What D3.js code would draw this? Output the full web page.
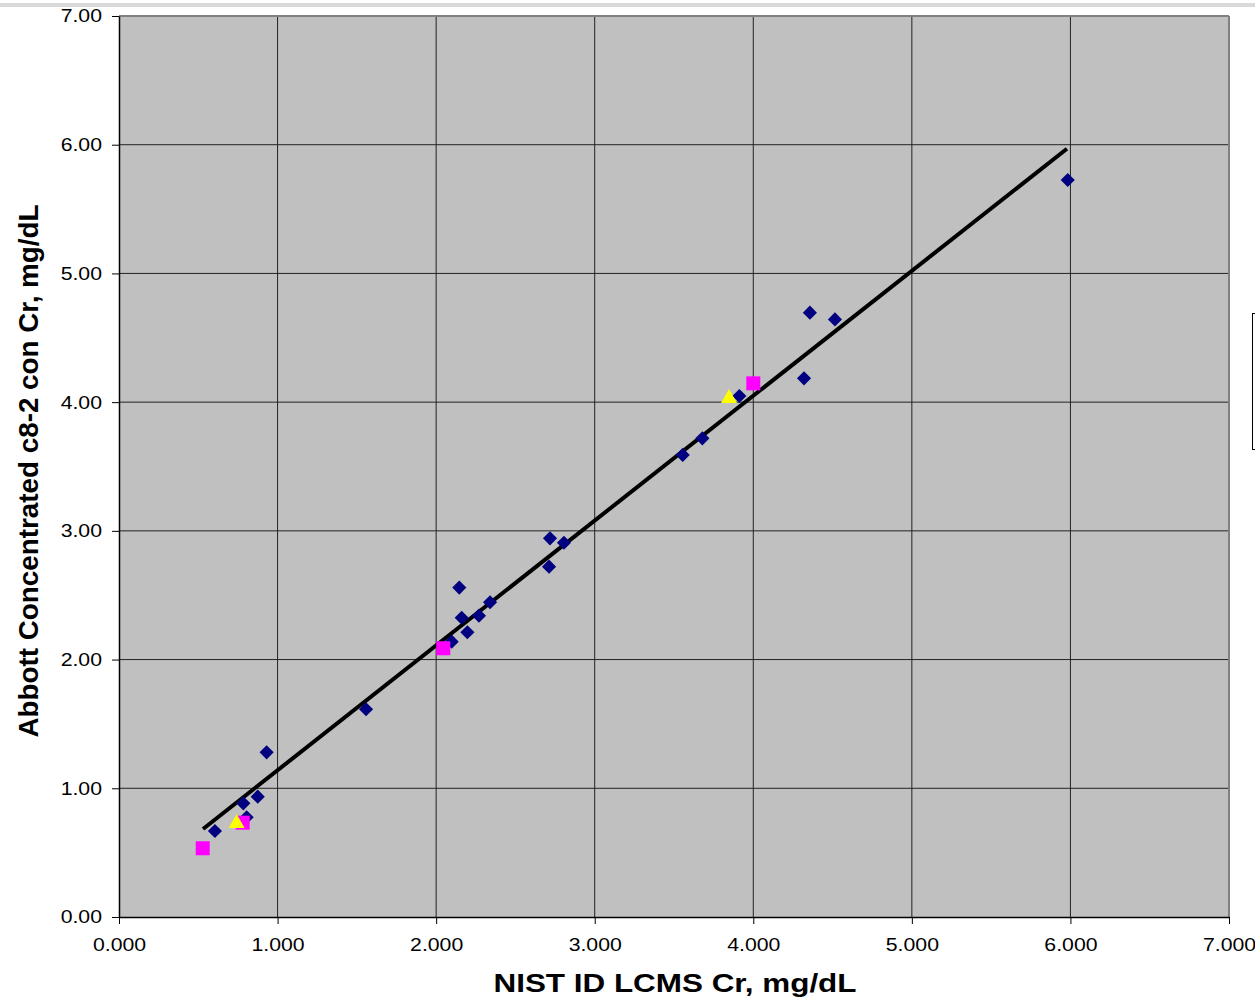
<!DOCTYPE html>
<html><head><meta charset="utf-8">
<script src="https://cdn.jsdelivr.net/npm/d3@7"></script>
<style>body{margin:0;background:#fff}svg{display:block}text{font-family:"Liberation Sans",Arial,sans-serif}</style>
</head><body>
<script>
const xTicks = [0,1,2,3,4,5,6,7];
const yTicks = [0,1,2,3,4,5,6,7];
const blueX = [0.605,0.784,0.805,0.875,0.931,1.558,2.098,2.146,2.161,2.197,2.270,2.340,2.712,2.718,2.806,3.555,3.679,3.912,4.320,4.357,4.515,5.983];
const blueY = [0.668,0.883,0.775,0.935,1.279,1.614,2.139,2.559,2.325,2.212,2.341,2.445,2.722,2.942,2.908,3.590,3.719,4.048,4.185,4.695,4.643,5.726];
const pinkX = [0.528,0.780,2.045,4.000];
const pinkY = [0.534,0.733,2.088,4.146];
const yellowX = [0.742,3.847];
const yellowY = [0.738,4.040];
const trendX = [0.53,5.978];
const trendSlope = 0.970, trendIntercept = 0.170;

const W=1255,H=998;
const svg=d3.select("body").append("svg").attr("width",W).attr("height",H);
const L=119,R=1229,T=16,B=917;
const x=d3.scaleLinear().domain([0,7]).range([L,R]);
const y=d3.scaleLinear().domain([0,7]).range([B,T]);
const stretch=1.18;

svg.append("rect").attr("x",0).attr("y",3).attr("width",W).attr("height",4).attr("fill","#d9d9d9");
svg.append("rect").attr("x",L).attr("y",T).attr("width",R-L).attr("height",B-T).attr("fill","#c0c0c0");

svg.append("g").selectAll("line").data(xTicks.slice(1,-1)).join("line")
  .attr("x1",d=>x(d)).attr("x2",d=>x(d)).attr("y1",T).attr("y2",B).attr("stroke","#222").attr("stroke-width",1);
svg.append("g").selectAll("line").data(yTicks.slice(1,-1)).join("line")
  .attr("y1",d=>y(d)).attr("y2",d=>y(d)).attr("x1",L).attr("x2",R).attr("stroke","#222").attr("stroke-width",1);
svg.append("line").attr("x1",L).attr("x2",R).attr("y1",T).attr("y2",T).attr("stroke","#808080").attr("stroke-width",2);
svg.append("line").attr("x1",R).attr("x2",R).attr("y1",T).attr("y2",B).attr("stroke","#808080").attr("stroke-width",2);

const xa=svg.append("g").attr("transform",`translate(0,${B})`)
  .call(d3.axisBottom(x).tickValues(xTicks).tickFormat(d3.format(".3f")).tickSize(7).tickSizeOuter(0));
const ya=svg.append("g").attr("transform",`translate(${L},0)`)
  .call(d3.axisLeft(y).tickValues(yTicks).tickFormat(d3.format(".2f")).tickSize(7).tickSizeOuter(0));
[xa,ya].forEach(a=>{a.select(".domain").attr("stroke","#000").attr("stroke-width",1.5);
  a.selectAll(".tick line").attr("stroke","#000");
  a.selectAll("text").attr("font-size",18).attr("fill","#000").attr("font-family","Liberation Sans, Arial, sans-serif");});
xa.selectAll("text").attr("y",34).attr("dy",0);
ya.selectAll("text").attr("x",-17).attr("dy","0.33em");
[xa,ya].forEach(a=>a.selectAll("text").each(function(){
  const len=this.getComputedTextLength();
  d3.select(this).attr("textLength",len*stretch).attr("lengthAdjust","spacingAndGlyphs");
}));

svg.append("path").datum(trendX.map(v=>[v,trendSlope*v+trendIntercept]))
  .attr("d",d3.line().x(d=>x(d[0])).y(d=>y(d[1]))).attr("stroke","#000").attr("stroke-width",4).attr("fill","none");

const diamond=d3.symbol().type(d3.symbolSquare).size(100);
svg.append("g").selectAll("path").data(blueX.map((v,i)=>[v,blueY[i]])).join("path")
  .attr("d",diamond).attr("transform",d=>`translate(${x(d[0])},${y(d[1])}) rotate(45)`).attr("fill","#000080");
svg.append("g").selectAll("rect").data(pinkX.map((v,i)=>[v,pinkY[i]])).join("rect")
  .attr("x",d=>x(d[0])-7).attr("y",d=>y(d[1])-7).attr("width",14).attr("height",14).attr("fill","#ff00ff");
svg.append("g").selectAll("path").data(yellowX.map((v,i)=>[v,yellowY[i]])).join("path")
  .attr("d",d=>{const cx=x(d[0]),cy=y(d[1]);return `M${cx},${cy-8}L${cx+8},${cy+6}L${cx-8},${cy+6}Z`;}).attr("fill","#ffff00");

svg.append("text").attr("x",675).attr("y",992).attr("text-anchor","middle").attr("font-size",25).attr("font-weight","bold")
  .attr("textLength",363).attr("lengthAdjust","spacingAndGlyphs").text("NIST ID LCMS Cr, mg/dL");
svg.append("text").attr("transform","translate(38,471) rotate(-90)").attr("text-anchor","middle").attr("font-size",27).attr("font-weight","bold")
  .attr("textLength",533).attr("lengthAdjust","spacingAndGlyphs").text("Abbott Concentrated c8-2 con Cr, mg/dL");

svg.append("rect").attr("x",1252.5).attr("y",313.5).attr("width",20).attr("height",136).attr("fill","#fff").attr("stroke","#000").attr("stroke-width",1);
</script>
</body></html>
